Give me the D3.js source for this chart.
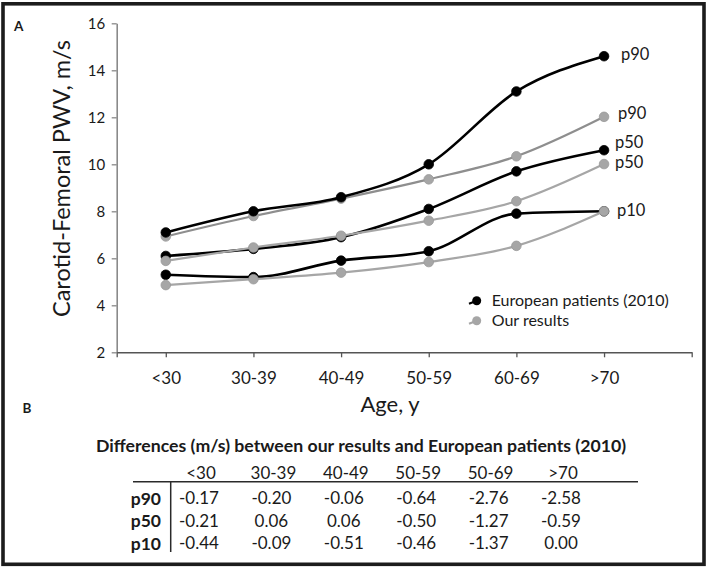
<!DOCTYPE html>
<html>
<head>
<meta charset="utf-8">
<script src="https://cdn.jsdelivr.net/npm/d3@7/dist/d3.min.js"></script>
<style>
  html, body { margin: 0; padding: 0; background: #fff; }
  svg { display: block; }
  text { font-family: Lato, "Open Sans", sans-serif; fill: #1a1a1a; }
</style>
</head>
<body>
<svg id="chart" width="709" height="567"></svg>
<script>
// ---------------- data ----------------
const categories = ["<30", "30-39", "40-49", "50-59", "60-69", ">70"];
const yTicks = [2, 4, 6, 8, 10, 12, 14, 16];

const euroP90 = [7.1, 8.0, 8.6, 10.0, 13.1, 14.6];
const euroP50 = [6.1, 6.4, 6.9, 8.1, 9.7, 10.6];
const euroP10 = [5.3, 5.2, 5.9, 6.3, 7.9, 8.0];
const ourP90 = [6.93, 7.8, 8.54, 9.36, 10.34, 12.02];
const ourP50 = [5.89, 6.46, 6.96, 7.6, 8.43, 10.01];
const ourP10 = [4.86, 5.11, 5.39, 5.84, 6.53, 8.0];

const legendLabels = ["European patients (2010)", "Our results"];

const tableTitle = "Differences (m/s) between our results and European patients (2010)";
const tableHeaders = ["<30", "30-39", "40-49", "50-59", "50-69", ">70"];
const tableRows = ["p90", "p50", "p10"];
const diffP90 = [-0.17, -0.20, -0.06, -0.64, -2.76, -2.58];
const diffP50 = [-0.21, 0.06, 0.06, -0.50, -1.27, -0.59];
const diffP10 = [-0.44, -0.09, -0.51, -0.46, -1.37, 0.00];

// ---------------- layout / style ----------------
const svg = d3.select("#chart");
const BLACK = "#000000", GRAY = "#a6a6a6", GRAY_DARK = "#8e8e8e";

// series in drawing order with styles
const series = [
  { values: ourP90, color: GRAY_DARK, fill: GRAY, w: 2.2, label: "p90", dx: 14, dy: -3.5 },
  { values: euroP90, color: BLACK, fill: BLACK, w: 2.6, label: "p90", dx: 17, dy: -2.5 },
  { values: euroP50, color: BLACK, fill: BLACK, w: 2.6, label: "p50", dx: 11, dy: -8.5 },
  { values: ourP50, color: GRAY, fill: GRAY, w: 2.2, label: "p50", dx: 11, dy: -2.5 },
  { values: euroP10, color: BLACK, fill: BLACK, w: 2.6, label: null },
  { values: ourP10, color: GRAY, fill: GRAY, w: 2.2, label: "p10", dx: 13, dy: -1.5 }
];

// frame
svg.append("rect").attr("x", 0).attr("y", 0).attr("width", 709).attr("height", 567).attr("fill", "#fff");
svg.append("rect").attr("x", 3).attr("y", 3.8).attr("width", 701).attr("height", 560.5)
  .attr("fill", "none").attr("stroke", "#1c1c1c").attr("stroke-width", 3.6);

// scales
const x = d3.scaleLinear().domain([-0.56, 6]).range([116.7, 691.7]);
const y = d3.scaleLinear().domain([2, 16]).range([352.3, 23.3]);

// y axis
const gy = svg.append("g").attr("transform", `translate(${x(-0.56)},0)`)
  .call(d3.axisLeft(y).tickValues(yTicks).tickSize(5).tickSizeOuter(0).tickPadding(6.5));
gy.select(".domain").attr("stroke", "#8a8a8a").attr("stroke-width", 1.6);
gy.selectAll(".tick line").attr("stroke", "#8a8a8a").attr("stroke-width", 1.3);
gy.selectAll(".tick text").attr("font-family", "Lato").attr("font-size", 15).attr("fill", "#1a1a1a");

// x axis
const gx = svg.append("g").attr("transform", `translate(0,${y(2)})`)
  .call(d3.axisBottom(x).tickValues([-0.56, 0, 1, 2, 3, 4, 5, 6])
    .tickFormat(d => Number.isInteger(d) && d >= 0 && d < categories.length ? categories[d] : "")
    .tickSize(5).tickSizeOuter(0).tickPadding(15));
gx.select(".domain").attr("stroke", "#555").attr("stroke-width", 1.6);
gx.selectAll(".tick line").attr("stroke", "#555").attr("stroke-width", 1.3);
gx.selectAll(".tick text").attr("font-family", "Lato").attr("font-size", 17).attr("fill", "#1a1a1a");

// axis titles
svg.append("text").attr("transform", "translate(70,178.5) rotate(-90)")
  .attr("text-anchor", "middle").attr("font-size", 23.5).text("Carotid-Femoral PWV, m/s");
svg.append("text").attr("x", 390).attr("y", 411.7)
  .attr("text-anchor", "middle").attr("font-size", 22).text("Age, y");

// panel letters
svg.append("text").attr("x", 14).attr("y", 30.7).attr("font-size", 13.5).attr("font-weight", 700).text("A");
svg.append("text").attr("x", 22.5).attr("y", 413).attr("font-size", 13.5).attr("font-weight", 700).text("B");

// lines + markers
const line = d3.line().x((d, i) => x(i)).y(d => y(d)).curve(d3.curveMonotoneX);
const gs = svg.append("g");
series.forEach(s => {
  const g = gs.append("g");
  g.append("path").attr("d", line(s.values)).attr("fill", "none")
    .attr("stroke", s.color).attr("stroke-width", s.w).attr("stroke-linejoin", "round");
  g.selectAll("circle").data(s.values).join("circle")
    .attr("cx", (d, i) => x(i)).attr("cy", d => y(d)).attr("r", 4.8)
    .attr("fill", s.fill).attr("stroke", s.color === BLACK ? BLACK : "#999").attr("stroke-width", 0.8);
  if (s.label) {
    const last = s.values.length - 1;
    svg.append("text").attr("x", x(last) + s.dx).attr("y", y(s.values[last]) + s.dy)
      .attr("dy", "0.36em").attr("font-size", 16.5).text(s.label);
  }
});

// legend
const legend = svg.append("g");
[[BLACK, BLACK], [GRAY, GRAY]].forEach((c, i) => {
  const cy = 300.7 + i * 20;
  legend.append("line").attr("x1", 469).attr("y1", cy + 3).attr("x2", 476.7).attr("y2", cy)
    .attr("stroke", c[0]).attr("stroke-width", 2.2);
  legend.append("circle").attr("cx", 476.7).attr("cy", cy).attr("r", 4.5).attr("fill", c[1]);
  legend.append("text").attr("x", 491.7).attr("y", cy).attr("dy", "0.36em")
    .attr("font-size", 16).text(legendLabels[i]);
});

// ---------------- table ----------------
const tbl = svg.append("g");
const colX = d3.scalePoint().domain(d3.range(tableHeaders.length)).range([199, 561]);
const rowY = d3.scalePoint().domain(d3.range(tableRows.length)).range([498.3, 543.3]);
const fmt = d3.formatLocale({ decimal: ".", thousands: ",", grouping: [3], currency: ["", ""], minus: "-" }).format(".2f");
const diffs = [diffP90, diffP50, diffP10];

tbl.append("text").attr("x", 361).attr("y", 452.3).attr("text-anchor", "middle")
  .attr("font-size", 17.7).attr("font-weight", 700).text(tableTitle);

tbl.selectAll(".hdr").data(tableHeaders).join("text").attr("class", "hdr")
  .attr("x", (d, i) => colX(i) + 2).attr("y", 473.3).attr("dy", "0.36em")
  .attr("text-anchor", "middle").attr("font-size", 17).text(d => d);

tbl.append("line").attr("x1", 133).attr("x2", 638).attr("y1", 481.8).attr("y2", 481.8)
  .attr("stroke", "#2a2a2a").attr("stroke-width", 1.5);
tbl.append("line").attr("x1", 170.7).attr("x2", 170.7).attr("y1", 482).attr("y2", 552)
  .attr("stroke", "#2a2a2a").attr("stroke-width", 1.5);

tableRows.forEach((r, ri) => {
  tbl.append("text").attr("x", 161).attr("y", rowY(ri)).attr("dy", "0.36em")
    .attr("text-anchor", "end").attr("font-size", 17.5).attr("font-weight", 700).text(r);
  tbl.selectAll(".row" + ri).data(diffs[ri]).join("text").attr("class", "row" + ri)
    .attr("x", (d, i) => colX(i)).attr("y", rowY(ri)).attr("dy", "0.36em")
    .attr("text-anchor", "middle").attr("font-size", 17).text(d => fmt(d));
});
</script>
</body>
</html>
